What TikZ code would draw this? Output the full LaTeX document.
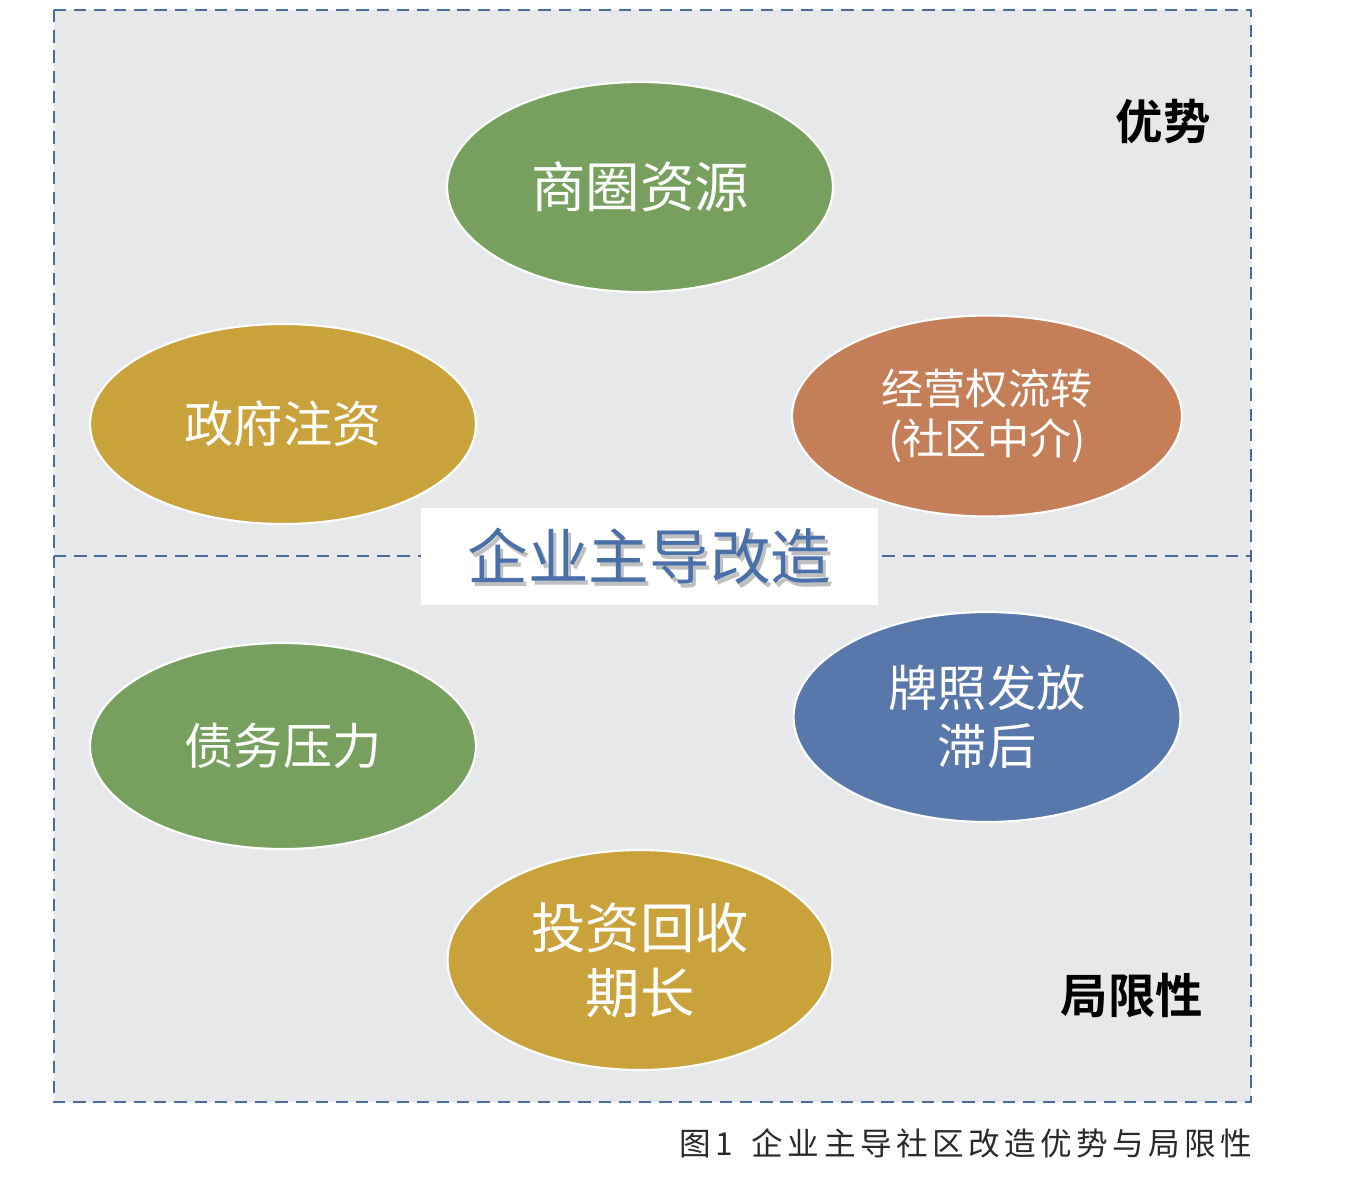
\documentclass[tikz,border=0pt]{standalone}
\usepackage{fontspec}
\newfontfamily\cjk{Noto Sans CJK SC}[BoldFont={Noto Sans CJK SC Bold}]
\newfontfamily\cjkcap{Noto Sans CJK SC}[LetterSpace=14]
\usetikzlibrary{shapes.geometric,calc}
\definecolor{bgray}{HTML}{E6E8EA}
\definecolor{dashblue}{HTML}{4B6B9B}
\definecolor{egreen}{HTML}{77A05E}
\definecolor{egold}{HTML}{C9A23B}
\definecolor{eorange}{HTML}{C47E58}
\definecolor{eblue}{HTML}{5877AA}
\definecolor{ttlblue}{HTML}{4A70AA}
\definecolor{capgray}{HTML}{2A2A2A}
\tikzset{
  bubble/.style={ellipse, draw=white, line width=1.2pt, inner sep=0pt, text=white, align=center, font=\cjk},
  dashline/.style={draw=dashblue, line width=1.1pt, dash pattern=on 7pt off 4.5pt},
}
\begin{document}
\begin{tikzpicture}[x=0.02cm,y=-0.02cm]
\useasboundingbox (0,0) rectangle (1364,1184);
\fill[white] (0,0) rectangle (1364,1184);
% background panel
\fill[bgray] (54,10) rectangle (1251,1102);
\draw[dashline] (54,10) rectangle (1251,1102);
\coordinate (hl) at (54,556);
\coordinate (hr) at (1251,556);
\draw[dashline] (hl) -- (hr);
% ellipses
\node[bubble, fill=egreen, minimum width=7.72cm, minimum height=4.2cm, font=\cjk\fontsize{31}{36}\selectfont] (shq) at (640,187) {商圈资源};
\node[bubble, fill=egold, minimum width=7.72cm, minimum height=4.0cm, font=\cjk\fontsize{28}{33}\selectfont] (zf) at (283,424) {政府注资};
\node[bubble, fill=eorange, minimum width=7.8cm, minimum height=4.02cm, font=\cjk\fontsize{24}{28.5}\selectfont] (jy) at (987,416) {经营权流转\\(社区中介)};
\node[bubble, fill=egreen, minimum width=7.72cm, minimum height=4.12cm, font=\cjk\fontsize{28}{33}\selectfont] (zw) at (283,746) {债务压力};
\node[bubble, fill=eblue, minimum width=7.74cm, minimum height=4.2cm, font=\cjk\fontsize{28}{33}\selectfont] (pz) at (987,717) {牌照发放\\滞后};
\node[bubble, fill=egold, minimum width=7.7cm, minimum height=4.4cm, font=\cjk\fontsize{31}{37}\selectfont] (tz) at (640,960) {投资回收\\期长};
% centre title
\node[fill=white, minimum width=9.14cm, minimum height=1.94cm, inner sep=0pt] (box) at (649.5,556.5) {};
\node[text=black!25, font=\cjk\fontsize{34.5}{40}\selectfont] (ttlsh) at ($(box.center)+(3,4)$) {企业主导改造};
\node[text=ttlblue, font=\cjk\fontsize{34.5}{40}\selectfont] (ttl) at (box.center) {企业主导改造};
% side labels
\node[font=\cjk\bfseries\fontsize{27}{32}\selectfont] (ys) at (1163,122) {优势};
\node[font=\cjk\bfseries\fontsize{27}{32}\selectfont] (jx) at (1132,995) {局限性};
% caption
\node[anchor=west, inner sep=0pt, text=capgray, font=\cjkcap\fontsize{18}{21}\selectfont] (cap) at (679,1143) {图1\hspace{0.6em}企业主导社区改造优势与局限性};
\end{tikzpicture}
\end{document}
